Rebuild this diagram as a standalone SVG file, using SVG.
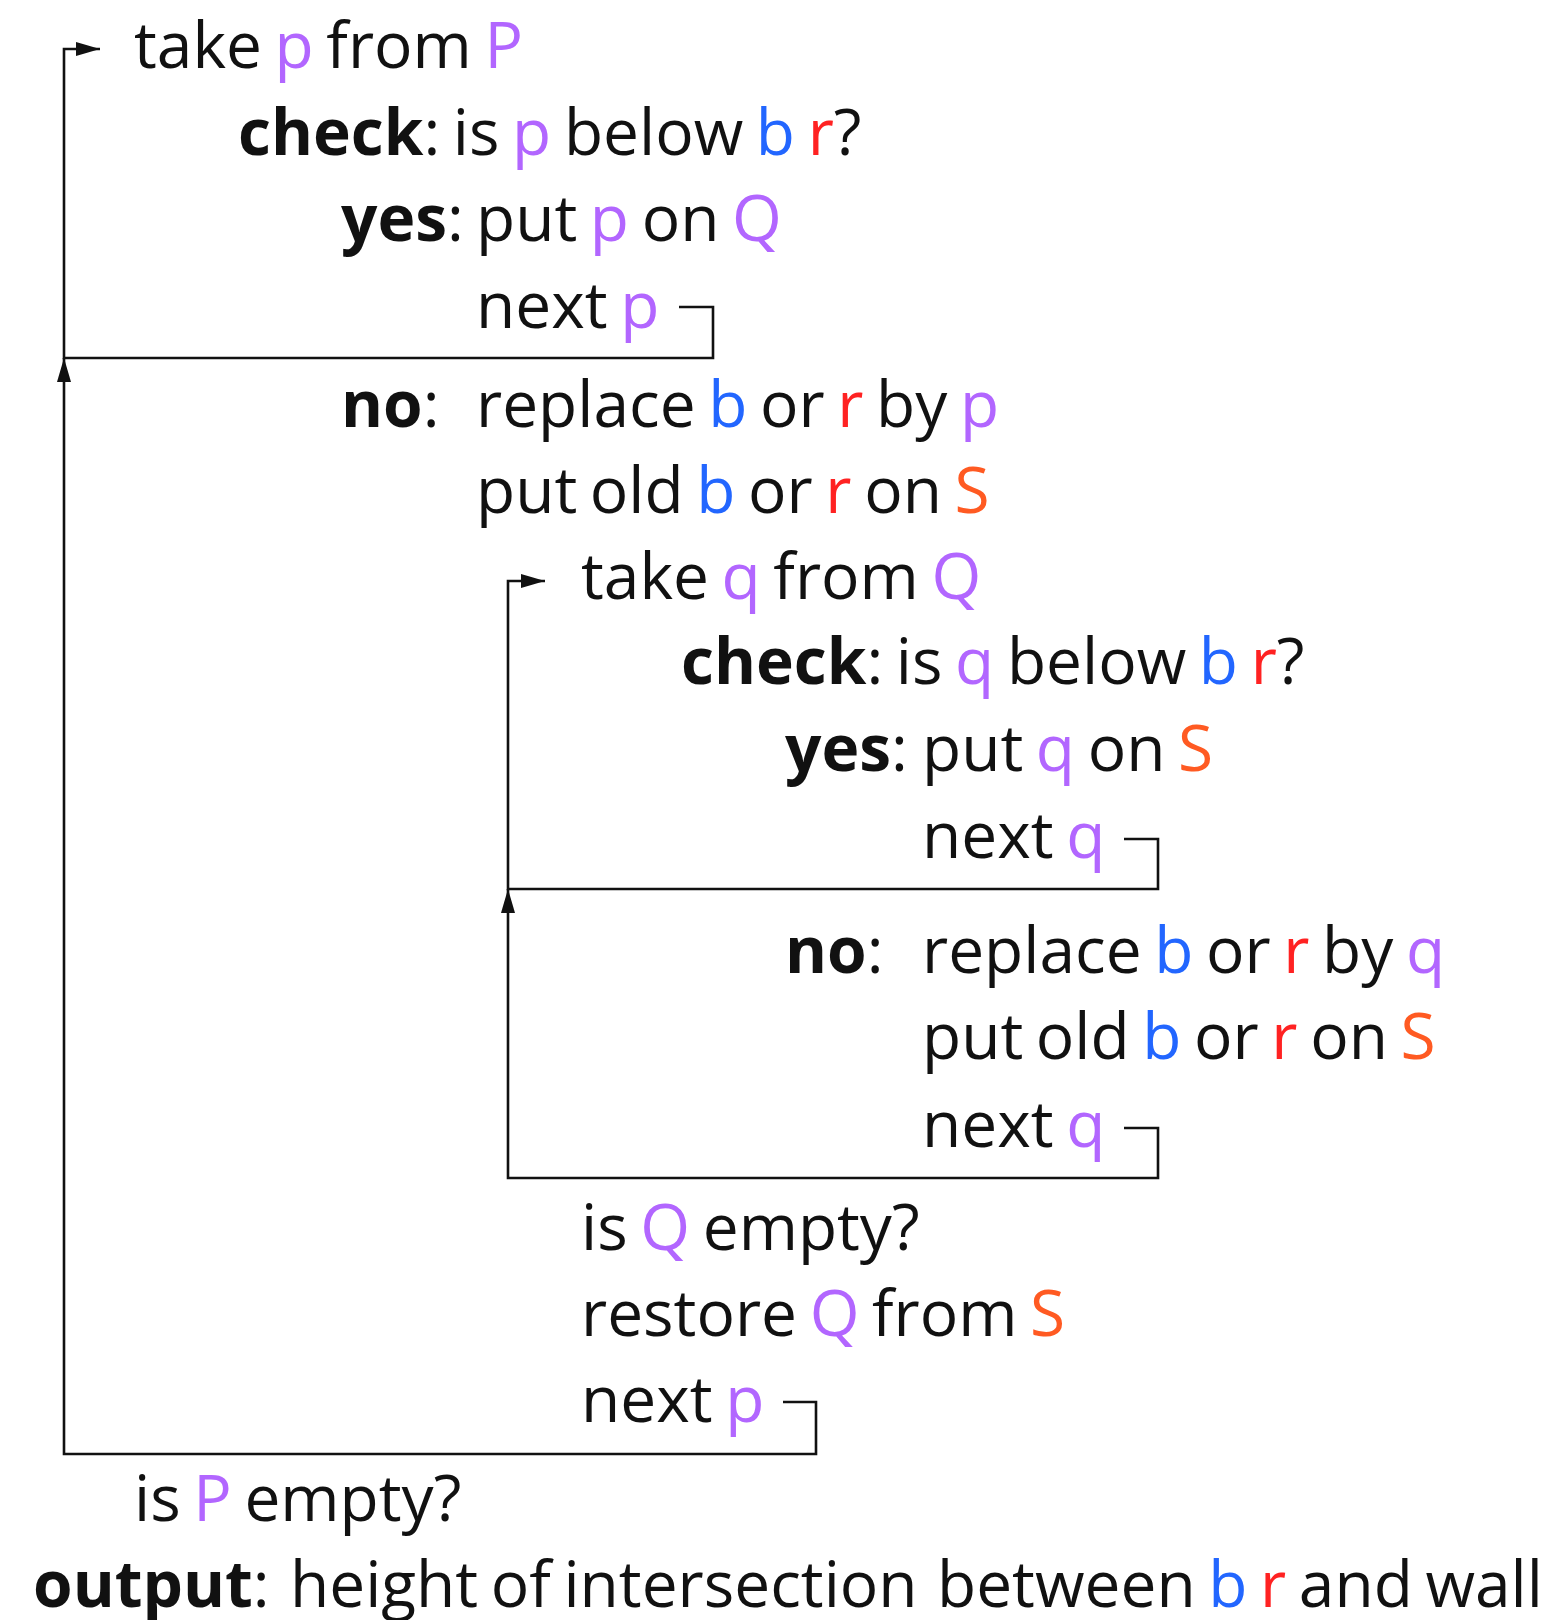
<svg xmlns="http://www.w3.org/2000/svg" width="1553" height="1620" viewBox="0 0 1553 1620">
<style>
.t{font-family:"Open Sans","Noto Sans",sans-serif;font-size:64px;fill:#111;word-spacing:-4px}
.b{font-weight:bold}
.pu{fill:#b266ff}
.bl{fill:#2266ff}
.rd{fill:#ff2222}
.or{fill:#ff5a22}
.ln{fill:none;stroke:#111;stroke-width:2.6}
</style>
<defs>
<marker id="ah" viewBox="0 0 24 14" refX="24" refY="7" markerWidth="24" markerHeight="14" orient="auto" markerUnits="userSpaceOnUse">
<path d="M0,0 L24,7 L0,14 Z" fill="#111"/>
</marker>
</defs>
<rect width="1553" height="1620" fill="#fff"/>
<g id="connectors">
<path class="ln" d="M783,1402 H816 V1454 H64 V358" marker-end="url(#ah)"/>
<path class="ln" d="M679,307 H713 V358 H64 V49 H100" marker-end="url(#ah)"/>
<path class="ln" d="M1124,1128 H1158 V1178 H508 V889" marker-end="url(#ah)"/>
<path class="ln" d="M1124,839 H1158 V889 H508 V581 H545" marker-end="url(#ah)"/>
</g>
<g id="take-p"><text class="t" x="134" y="68">take <tspan class="pu">p</tspan> from <tspan class="pu">P</tspan></text></g>
<g id="check-p"><text class="t" x="238" y="155"><tspan class="b">check</tspan>: is <tspan class="pu">p</tspan> below <tspan class="bl">b</tspan> <tspan class="rd">r</tspan>?</text></g>
<g id="yes-p"><text class="t" x="341" y="241"><tspan class="b">yes</tspan>:<tspan x="476">put </tspan><tspan class="pu">p</tspan> on <tspan class="pu">Q</tspan></text></g>
<g id="next-p-1"><text class="t" x="476" y="328">next <tspan class="pu">p</tspan></text></g>
<g id="no-p"><text class="t" x="341" y="427"><tspan class="b">no</tspan>:<tspan x="476">replace </tspan><tspan class="bl">b</tspan> or <tspan class="rd">r</tspan> by <tspan class="pu">p</tspan></text></g>
<g id="put-old-p"><text class="t" x="476" y="513">put old <tspan class="bl">b</tspan> or <tspan class="rd">r</tspan> on <tspan class="or">S</tspan></text></g>
<g id="take-q"><text class="t" x="581" y="599">take <tspan class="pu">q</tspan> from <tspan class="pu">Q</tspan></text></g>
<g id="check-q"><text class="t" x="681" y="684"><tspan class="b">check</tspan>: is <tspan class="pu">q</tspan> below <tspan class="bl">b</tspan> <tspan class="rd">r</tspan>?</text></g>
<g id="yes-q"><text class="t" x="785" y="771"><tspan class="b">yes</tspan>:<tspan x="922">put </tspan><tspan class="pu">q</tspan> on <tspan class="or">S</tspan></text></g>
<g id="next-q-1"><text class="t" x="922" y="858">next <tspan class="pu">q</tspan></text></g>
<g id="no-q"><text class="t" x="785" y="973"><tspan class="b">no</tspan>:<tspan x="922">replace </tspan><tspan class="bl">b</tspan> or <tspan class="rd">r</tspan> by <tspan class="pu">q</tspan></text></g>
<g id="put-old-q"><text class="t" x="922" y="1059">put old <tspan class="bl">b</tspan> or <tspan class="rd">r</tspan> on <tspan class="or">S</tspan></text></g>
<g id="next-q-2"><text class="t" x="922" y="1147">next <tspan class="pu">q</tspan></text></g>
<g id="q-empty"><text class="t" x="581" y="1250">is <tspan class="pu">Q</tspan> empty?</text></g>
<g id="restore"><text class="t" x="581" y="1336">restore <tspan class="pu">Q</tspan> from <tspan class="or">S</tspan></text></g>
<g id="next-p-2"><text class="t" x="581" y="1422">next <tspan class="pu">p</tspan></text></g>
<g id="p-empty"><text class="t" x="134" y="1521">is <tspan class="pu">P</tspan> empty?</text></g>
<g id="output"><text class="t" x="33" y="1607"><tspan class="b">output</tspan>:<tspan x="290">height of intersection</tspan><tspan x="937">between </tspan><tspan class="bl">b</tspan> <tspan class="rd">r</tspan> and wall</text></g>
</svg>
